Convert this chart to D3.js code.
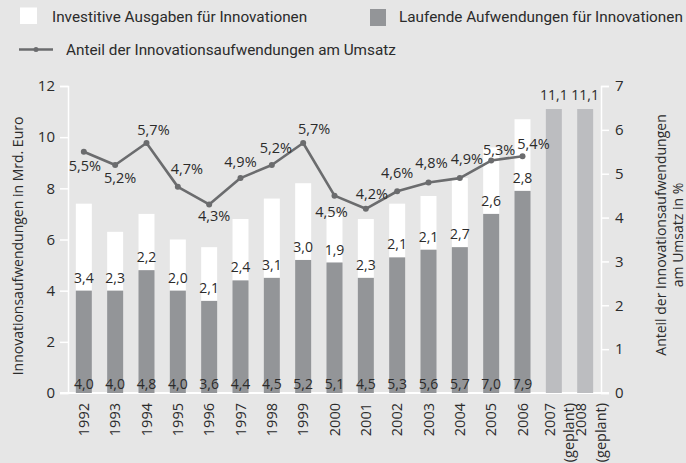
<!DOCTYPE html>
<html><head><meta charset="utf-8">
<script src="https://cdn.jsdelivr.net/npm/d3@7/dist/d3.min.js"></script>
<style>
body{margin:0;background:#e6e6e6;}
svg{display:block;}
text{font-family:"Open Sans",sans-serif;fill:#2b2b2b;}
.leg{font-family:Roboto,"Open Sans",sans-serif;font-size:15.3px;}
</style></head>
<body><svg id="c" width="686" height="463"></svg>
<script>
const years = ["1992","1993","1994","1995","1996","1997","1998","1999","2000","2001","2002","2003","2004","2005","2006","2007","2008"];
const plannedYears = ["2007","2008"];
const laufende = [4.0,4.0,4.8,4.0,3.6,4.4,4.5,5.2,5.1,4.5,5.3,5.6,5.7,7.0,7.9];
const investitive = [3.4,2.3,2.2,2.0,2.1,2.4,3.1,3.0,1.9,2.3,2.1,2.1,2.7,2.6,2.8];
const geplant = [11.1,11.1];
const anteil = [5.5,5.2,5.7,4.7,4.3,4.9,5.2,5.7,4.5,4.2,4.6,4.8,4.9,5.3,5.4];
const leftTicks = [0,2,4,6,8,10,12];
const rightTicks = [0,1,2,3,4,5,6,7];
// label placement offsets for the percentage labels (dx, dy of label centre from the point)
const pctLabelDx = [1,5,7,9,5,0,4,11,-3,6,0,3,7,8,11];
const pctLabelDy = [14,13,-13,-18,12,-16,-17,-14,16,-15,-18,-19,-19,-11,-12];

const fmt = v => d3.format(".1f")(v).replace(".", ",");
const svg = d3.select("#c");
const C = {bg:"#e6e6e6", dark:"#939598", plan:"#bcbdc0", line:"#6b6c6e", white:"#ffffff"};

const x = d3.scaleBand().domain(years).range([68,601]).paddingInner(0.49).paddingOuter(0.25);
const yL = d3.scaleLinear().domain([0,12]).range([393,86]);
const yR = d3.scaleLinear().domain([0,7]).range([393,86]);
const bw = x.bandwidth();
const histYears = years.filter(y => !plannedYears.includes(y));

// axes
const axL = d3.axisLeft(yL).tickValues(leftTicks).tickSize(8).tickPadding(5).tickFormat(d3.format("d"));
const gL = svg.append("g").attr("transform","translate(68,0)").call(axL);
const axR = d3.axisRight(yR).tickValues(rightTicks).tickSize(8).tickPadding(6).tickFormat(d3.format("d"));
const gR = svg.append("g").attr("transform","translate(601,0)").call(axR);
[gL,gR].forEach(g=>{
  g.select(".domain").attr("stroke",C.white).attr("stroke-width",1.5);
  g.selectAll(".tick line").attr("stroke",C.white).attr("stroke-width",1.5);
  g.selectAll(".tick text").attr("font-size","15px").attr("font-family","'Open Sans',sans-serif").attr("fill","#2b2b2b");
});
svg.append("line").attr("x1",60).attr("x2",609).attr("y1",yL(0)).attr("y2",yL(0))
  .attr("stroke",C.white).attr("stroke-width",2);

// bars
const gb = svg.append("g");
histYears.forEach((yr,i)=>{
  const xx = x(yr);
  gb.append("rect").attr("x",xx).attr("width",bw)
    .attr("y",yL(laufende[i]+investitive[i])).attr("height",yL(laufende[i])-yL(laufende[i]+investitive[i]))
    .attr("fill",C.white);
  gb.append("rect").attr("x",xx).attr("width",bw)
    .attr("y",yL(laufende[i])).attr("height",yL(0)-yL(laufende[i])).attr("fill",C.dark);
  gb.append("text").attr("x",xx+bw/2).attr("y",389).attr("text-anchor","middle")
    .attr("font-size","14px").text(fmt(laufende[i]));
  gb.append("text").attr("x",xx+bw/2).attr("y",yL(laufende[i])-8).attr("text-anchor","middle")
    .attr("font-size","14px").text(fmt(investitive[i]));
});
plannedYears.forEach((yr,i)=>{
  const xx = x(yr);
  gb.append("rect").attr("x",xx).attr("width",bw)
    .attr("y",yL(geplant[i])).attr("height",yL(0)-yL(geplant[i])).attr("fill",C.plan);
  gb.append("text").attr("x",xx+bw/2).attr("y",yL(geplant[i])-9).attr("text-anchor","middle")
    .attr("font-size","14px").text(fmt(geplant[i]));
});

// line
const cx = yr => x(yr)+bw/2;
const line = d3.line().x((d,i)=>cx(histYears[i])).y(d=>yR(d));
svg.append("path").datum(anteil).attr("d",line).attr("fill","none")
  .attr("stroke",C.line).attr("stroke-width",2.6).attr("stroke-linejoin","round");
svg.append("g").selectAll("circle").data(anteil).join("circle")
  .attr("cx",(d,i)=>cx(histYears[i])).attr("cy",d=>yR(d)).attr("r",3).attr("fill",C.line);
svg.append("g").selectAll("text").data(anteil).join("text")
  .attr("x",(d,i)=>cx(histYears[i])+pctLabelDx[i]).attr("y",(d,i)=>yR(d)+pctLabelDy[i]+5)
  .attr("text-anchor","middle").attr("font-size","14.5px").text(d=>fmt(d)+"%");

// x labels
const gx = svg.append("g");
years.forEach(yr=>{
  const planned = plannedYears.includes(yr);
  const t = gx.append("text").attr("transform",`translate(${cx(yr)+(planned?-4:0)},403) rotate(-90)`)
    .attr("text-anchor","end").attr("font-size","14.5px");
  t.append("tspan").attr("x",0).attr("dy","0.35em").text(yr);
  if(planned) t.append("tspan").attr("x",0).attr("dy","1.35em").text("(geplant)");
});

// axis titles
svg.append("text").attr("transform","translate(22.5,246) rotate(-90)").attr("text-anchor","middle")
  .attr("font-size","14px").text("Innovationsaufwendungen in Mrd. Euro");
const tr = svg.append("text").attr("transform","translate(666,235) rotate(-90)").attr("text-anchor","middle")
  .attr("font-size","14px");
tr.append("tspan").attr("x",0).attr("dy",0).text("Anteil der Innovationsaufwendungen");
tr.append("tspan").attr("x",0).attr("dy","1.2em").text("am Umsatz in %");

// legend
svg.append("rect").attr("x",20).attr("y",7.5).attr("width",17).attr("height",16.5).attr("fill",C.white);
svg.append("text").attr("class","leg").attr("x",52).attr("y",22).text("Investitive Ausgaben für Innovationen");
svg.append("rect").attr("x",370).attr("y",9).attr("width",16).attr("height",17).attr("fill",C.dark);
svg.append("text").attr("class","leg").attr("x",399).attr("y",22).text("Laufende Aufwendungen für Innovationen");
svg.append("line").attr("x1",19).attr("x2",53).attr("y1",49.5).attr("y2",49.5).attr("stroke",C.line).attr("stroke-width",2.6);
svg.append("circle").attr("cx",36).attr("cy",49.5).attr("r",2.5).attr("fill",C.line);
svg.append("text").attr("class","leg").attr("x",66).attr("y",55).text("Anteil der Innovationsaufwendungen am Umsatz");
</script></body></html>
